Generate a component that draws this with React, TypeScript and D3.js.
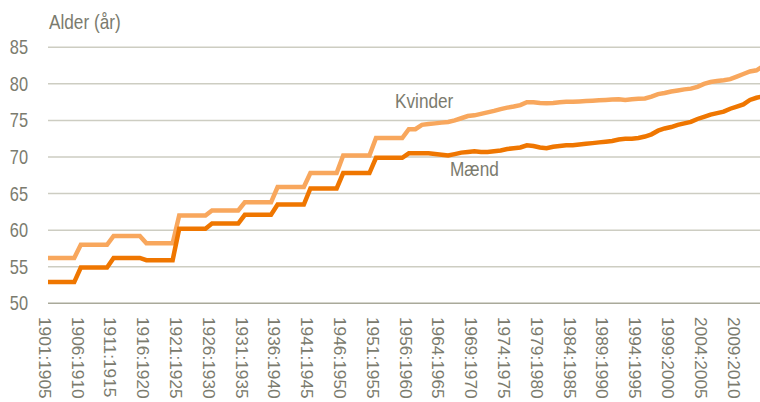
import React, { useEffect } from "react";
import * as d3 from "d3";

// Tick labels shown on the x axis (every 5th category)
const tickLabels = [
  "1901:1905", "1906:1910", "1911:1915", "1916:1920", "1921:1925", "1926:1930",
  "1931:1935", "1936:1940", "1941:1945", "1946:1950", "1951:1955", "1956:1960",
  "1964:1965", "1969:1970", "1974:1975", "1979:1980", "1984:1985", "1989:1990",
  "1994:1995", "1999:2000", "2004:2005", "2009:2010",
];
const tickEvery = 5;

// Life expectancy, men (Mænd)
const maend = [
  52.9, 52.9, 52.9, 52.9, 52.9,
  54.9, 54.9, 54.9, 54.9, 54.9,
  56.2, 56.2, 56.2, 56.2, 56.2,
  55.9, 55.9, 55.9, 55.9, 55.9,
  60.2, 60.2, 60.2, 60.2, 60.2,
  60.9, 60.9, 60.9, 60.9, 60.9,
  62.1, 62.1, 62.1, 62.1, 62.1,
  63.5, 63.5, 63.5, 63.5, 63.5,
  65.7, 65.7, 65.7, 65.7, 65.7,
  67.8, 67.8, 67.8, 67.8, 67.8,
  69.9, 69.9, 69.9, 69.9, 69.9,
  70.5, 70.5, 70.5, 70.5, 70.4,
  70.3, 70.2, 70.4, 70.6, 70.7,
  70.8, 70.7, 70.7, 70.8, 70.9,
  71.1, 71.2, 71.3, 71.6, 71.5,
  71.3, 71.2, 71.4, 71.5, 71.6,
  71.6, 71.7, 71.8, 71.9, 72.0,
  72.1, 72.2, 72.4, 72.5, 72.5,
  72.6, 72.8, 73.1, 73.6, 73.9,
  74.1, 74.4, 74.6, 74.8, 75.2,
  75.5, 75.8, 76.0, 76.2, 76.6,
  76.9, 77.2, 77.8, 78.1, 78.3,
];

// Life expectancy, women (Kvinder)
const kvinder = [
  56.2, 56.2, 56.2, 56.2, 56.2,
  58.0, 58.0, 58.0, 58.0, 58.0,
  59.2, 59.2, 59.2, 59.2, 59.2,
  58.2, 58.2, 58.2, 58.2, 58.2,
  62.0, 62.0, 62.0, 62.0, 62.0,
  62.7, 62.7, 62.7, 62.7, 62.7,
  63.8, 63.8, 63.8, 63.8, 63.8,
  65.9, 65.9, 65.9, 65.9, 65.9,
  67.8, 67.8, 67.8, 67.8, 67.8,
  70.2, 70.2, 70.2, 70.2, 70.2,
  72.6, 72.6, 72.6, 72.6, 72.6,
  73.8, 73.8, 74.4, 74.5, 74.6,
  74.7, 74.8, 75.0, 75.3, 75.6,
  75.7, 75.9, 76.1, 76.3, 76.55,
  76.75, 76.9, 77.1, 77.5, 77.5,
  77.4, 77.35, 77.4, 77.5, 77.55,
  77.55, 77.6, 77.65, 77.7, 77.75,
  77.8, 77.85, 77.9, 77.8, 77.9,
  77.95, 78.0, 78.25, 78.6, 78.75,
  78.95, 79.1, 79.25, 79.35, 79.6,
  80.0, 80.25, 80.4, 80.5, 80.65,
  81.0, 81.35, 81.7, 81.85, 82.4,
];

const yTicks = [50, 55, 60, 65, 70, 75, 80, 85];

const W = 760;
const H = 402;
const SX = 0.82; // horizontal squeeze of the type
const SXR = 0.93; // squeeze for the rotated labels
const FONT = "'Liberation Sans', Arial, sans-serif";
const TEXT = "#7b7b6e";

export default function App() {
  useEffect(() => {
    document.body.style.margin = "0";
  }, []);

  const x = d3
    .scaleLinear()
    .domain([0, maend.length - 1])
    .range([48, 48 + (maend.length - 1) * 6.56]);
  const y = d3.scaleLinear().domain([50, 85]).range([303.3, 47.3]);

  const line = d3
    .line<number>()
    .x((_, i) => x(i))
    .y((d) => y(d));

  return (
    <svg
      width={W}
      height={H}
      style={{ position: "absolute", left: 0, top: 0, background: "#fff" }}
      fontFamily={FONT}
    >
      {yTicks.map((t) => (
        <line
          key={"g" + t}
          x1={48}
          x2={W}
          y1={y(t)}
          y2={y(t)}
          stroke={t === 50 ? "#a9a99a" : "#cdcdc2"}
          strokeWidth={1.5}
        />
      ))}
      {yTicks.map((t) => (
        <text
          key={"yl" + t}
          transform={`translate(28,${y(t)}) scale(${SX},1)`}
          textAnchor="end"
          dy="0.35em"
          fontSize={20}
          fill={TEXT}
        >
          {t}
        </text>
      ))}
      <text
        transform={`translate(49,29) scale(${SX},1)`}
        fontSize={21}
        fill={TEXT}
      >
        Alder (år)
      </text>
      {tickLabels.map((lab, k) => (
        <text
          key={"xl" + k}
          transform={`translate(${x(k * tickEvery) - 3.5},317) scale(${SXR},1) rotate(90)`}
          dy="0.35em"
          fontSize={17.3}
          fill={TEXT}
        >
          {lab}
        </text>
      ))}
      <path
        d={line(kvinder) || ""}
        fill="none"
        stroke="#f8a75d"
        strokeWidth={4.5}
      />
      <path
        d={line(maend) || ""}
        fill="none"
        stroke="#ef7600"
        strokeWidth={4.5}
      />
      <text
        transform={`translate(395,108) scale(${SX},1)`}
        fontSize={21}
        fill={TEXT}
      >
        Kvinder
      </text>
      <text
        transform={`translate(450,176) scale(${SX},1)`}
        fontSize={21}
        fill={TEXT}
      >
        Mænd
      </text>
    </svg>
  );
}
